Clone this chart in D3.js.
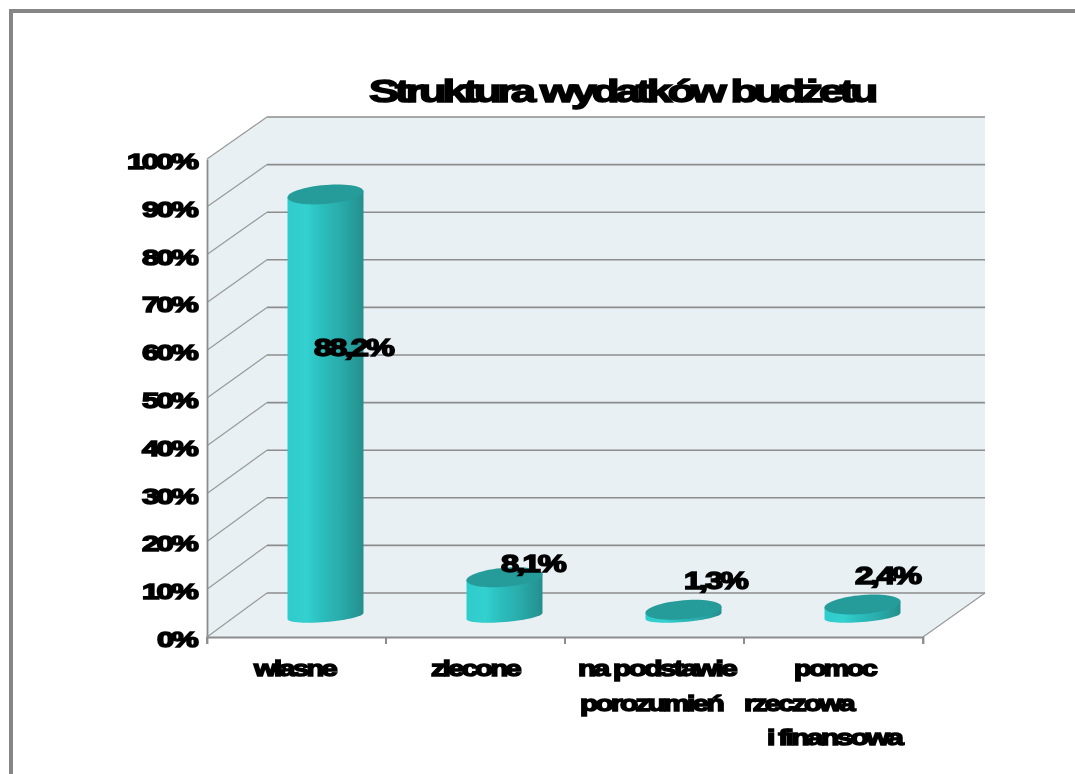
<!DOCTYPE html>
<html lang="pl">
<head>
<meta charset="utf-8">
<script src="https://cdn.jsdelivr.net/npm/d3@7"></script>
<style>
  html, body { margin: 0; padding: 0; background: #fff; overflow: hidden; }
  svg { display: block; }
  text { font-family: "Liberation Sans", Arial, sans-serif; font-weight: bold; fill: #000; stroke: #000; stroke-width: 1.5px; }
</style>
</head>
<body>
<div id="chart"></div>
<script>
// ---- Data -------------------------------------------------------------------
const chartTitle = 'Struktura wydatków budżetu';
const categories = ['własne', 'zlecone', 'na podstawie porozumień', 'pomoc rzeczowa i finansowa'];
const values     = [88.2, 8.1, 1.3, 2.4];
const valueText  = ['88,2%', '8,1%', '1,3%', '2,4%'];
const yTicks     = [0, 10, 20, 30, 40, 50, 60, 70, 80, 90, 100];

// ---- Layout -----------------------------------------------------------------
const W = 1075, H = 774;

const svg = d3.select('#chart').append('svg').attr('width', W).attr('height', H);
const x = d3.scaleBand().domain(categories).range([207, 923]);
const y = d3.scaleLinear().domain([0, 100]).range([637, 159]);      // front edge
const yBack = d3.scaleLinear().domain([0, 100]).range([593, 117]);  // back wall
const backX0 = 267, backX1 = 985;

// stepped shading round the cylinder, like the office 3D renderer
const defs = svg.append('defs');
const grad = defs.append('linearGradient').attr('id', 'cyl');
[['0%', '#2fcccc'], ['25%', '#31d0cf'], ['45%', '#2cbebd'], ['70%', '#29acab'], ['100%', '#248f8d']]
  .forEach(s => grad.append('stop').attr('offset', s[0]).attr('stop-color', s[1]));
defs.append('filter').attr('id', 'soft').append('feGaussianBlur').attr('stdDeviation', 0.5);
defs.append('filter').attr('id', 'softText').append('feGaussianBlur').attr('stdDeviation', 0.6);

// ---- Frame ------------------------------------------------------------------
svg.append('path').attr('fill', 'none').attr('stroke', '#868686').attr('stroke-width', 4)
  .attr('filter', 'url(#soft)')
  .attr('d', `M11,${H + 5}V11H${W + 5}`);

const chart = svg.append('g').attr('filter', 'url(#soft)');
const labels = svg.append('g').attr('filter', 'url(#softText)');

// ---- Walls ------------------------------------------------------------------
const [x0, x1] = x.range();
chart.append('path').attr('fill', '#e9f0f4')
  .attr('d', `M${x0},${y(0)}L${x0},${y(100)}L${backX0},${yBack(100)}L${backX1},${yBack(100)}L${backX1},${yBack(0)}L${x1},${y(0)}Z`);

// ---- Gridlines --------------------------------------------------------------
const gridStroke = '#8c8c8c';
chart.selectAll('path.depth').data(yTicks).join('path').attr('class', 'depth')
  .attr('fill', 'none').attr('stroke', '#999').attr('stroke-width', 1.2)
  .attr('d', d => `M${x0},${y(d)}L${backX0},${yBack(d)}`);
chart.selectAll('path.grid').data(yTicks).join('path').attr('class', 'grid')
  .attr('fill', 'none').attr('stroke', gridStroke).attr('stroke-width', 1.6)
  .attr('d', d => `M${backX0},${yBack(d)}H${backX1}`);

// floor edge, right side and axes
chart.append('path').attr('fill', 'none').attr('stroke', '#999').attr('stroke-width', 1.2)
  .attr('d', `M${x1},${y(0)}L${backX1},${yBack(0)}`);

const yAxis = d3.axisLeft(y).tickValues(yTicks).tickSize(0).tickFormat('');
const gy = chart.append('g').attr('transform', `translate(${x0},0)`).call(yAxis);
const xAxis = d3.axisBottom(x).tickValues([]).tickSizeOuter(7);
const gx = chart.append('g').attr('transform', `translate(0,${y(0)})`).call(xAxis);
[gy, gx].forEach(g => g.select('.domain').attr('stroke', gridStroke).attr('stroke-width', 1.8));
chart.selectAll('path.xtick').data(categories).join('path').attr('class', 'xtick')
  .attr('stroke', gridStroke).attr('stroke-width', 1.8)
  .attr('d', d => `M${x(d)},${y(0)}v7M${x(d) + x.bandwidth()},${y(0)}v7`);

// ---- Cylinders --------------------------------------------------------------
const rx = 38, ryTop = 9.5, ryBottom = 6, skew = 0.08;
const baseY = 616;
const dh = (y(0) - y(100)) / 100;
// ellipse leaning upward to the right, from angle a0 to a1
function arc(cx, cy, ry, a0, a1) {
  return d3.range(a0, a1 + 1, 6).map(a => {
    const t = a * Math.PI / 180, dx = rx * Math.cos(t);
    return [cx + dx, cy + ry * Math.sin(t) - skew * dx];
  });
}
const cxOf = d => x(d) + x.bandwidth() / 2 + 29;
const line = d3.line();
const bars = chart.selectAll('g.bar').data(categories).join('g').attr('class', 'bar');
bars.append('path').attr('fill', 'url(#cyl)')
  .attr('d', (d, i) => {
    const top = baseY - values[i] * dh;
    const a = arc(cxOf(d), top, 0, 180, 360), b = arc(cxOf(d), baseY, ryBottom, 0, 180);
    return line(a.concat(b)) + 'Z';
  });
bars.append('path').attr('fill', '#279c9a')
  .attr('d', (d, i) => line(arc(cxOf(d), baseY - values[i] * dh, ryTop, 0, 360)) + 'Z');

// ---- Labels -----------------------------------------------------------------
function stretched(str, left, width, baseline, size, spacing) {
  labels.append('text').attr('x', left).attr('y', baseline).attr('font-size', size)
    .attr('letter-spacing', spacing)
    .attr('textLength', width).attr('lengthAdjust', 'spacingAndGlyphs').text(str);
}

stretched(chartTitle, 369, 505, 102, 31, -3);

yTicks.forEach(t => {
  const w = t === 100 ? 69 : t === 0 ? 39 : 54;
  stretched(t + '%', 196 - w, w, y(t) + 10, 22, -2);
});

const valuePos = [[314, 78, 356], [501, 63, 572], [684, 62, 589], [855, 64, 584]];
valueText.forEach((d, i) => stretched(d, valuePos[i][0], valuePos[i][1], valuePos[i][2], 23, -2));

// category labels are broken by hand, same as the source
[['własne', 254, 81, 676], ['zlecone', 431, 88, 676],
 ['na podstawie', 578, 157, 676], ['porozumień', 580, 142, 711],
 ['pomoc', 794, 81, 676], ['rzeczowa', 744, 109, 711], ['i finansowa', 767, 134, 745]]
  .forEach(l => stretched(l[0], l[1], l[2], l[3], 22, -2));
</script>
</body>
</html>
